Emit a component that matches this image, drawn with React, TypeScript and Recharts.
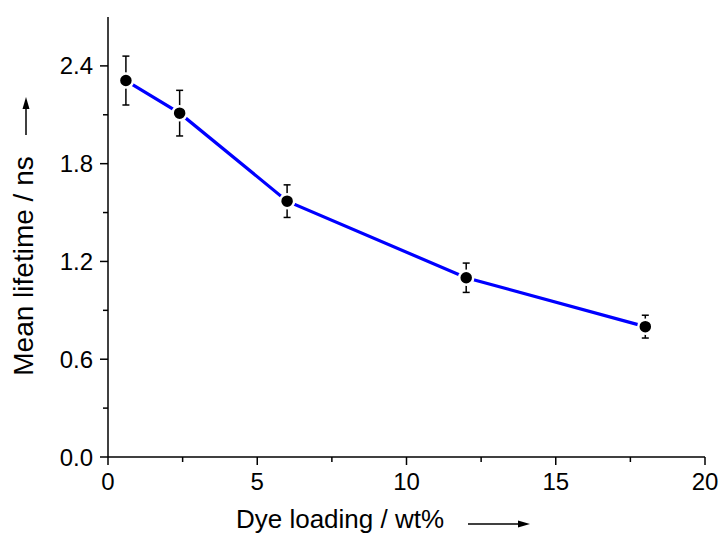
import React from 'react';
import { LineChart, Line, XAxis, YAxis, ErrorBar, Label } from 'recharts';

// dye loading (wt%) vs mean lifetime (ns)
const loading = [0.6, 2.4, 6, 12, 18];
const lifetime = [2.31, 2.11, 1.57, 1.10, 0.80];
const lifetimeErr = [0.15, 0.14, 0.10, 0.09, 0.07];

const xTicks = [0, 2.5, 5, 7.5, 10, 12.5, 15, 17.5, 20];
const yTicks = [0, 0.3, 0.6, 0.9, 1.2, 1.5, 1.8, 2.1, 2.4, 2.7];
const xMajor = [0, 5, 10, 15, 20];
const yMajor = [0, 0.6, 1.2, 1.8, 2.4];

const data = loading.map((x, i) => ({ x, y: lifetime[i], err: lifetimeErr[i] }));

const FONT = 'Arial, "Liberation Sans", sans-serif';

const XTick = (props: any) => {
  const { x, y, payload } = props;
  const major = xMajor.includes(payload.value);
  return (
    <g>
      <line x1={x} x2={x} y1={y} y2={y + (major ? 8 : 5)} stroke="#000" strokeWidth={1.5} />
      {major && (
        <text x={x} y={y + 33} textAnchor="middle" fontSize={24} fontFamily={FONT} fill="#000">
          {payload.value}
        </text>
      )}
    </g>
  );
};

const YTick = (props: any) => {
  const { x, y, payload } = props;
  const major = yMajor.includes(payload.value);
  if (payload.value === 2.7) return null;
  return (
    <g>
      <line x1={x} x2={x - (major ? 8 : 5)} y1={y} y2={y} stroke="#000" strokeWidth={1.5} />
      {major && (
        <text x={x - 15} y={y + 8.5} textAnchor="end" fontSize={24} fontFamily={FONT} fill="#000">
          {payload.value.toFixed(1)}
        </text>
      )}
    </g>
  );
};

const XTitle = () => (
  <g>
    <text x={340} y={528} textAnchor="middle" fontSize={26} fontFamily={FONT} fill="#000">
      Dye loading / wt%
    </text>
    <line x1={468} x2={522} y1={524} y2={524} stroke="#000" strokeWidth={1.5} />
    <path d="M530,524 L518,520.5 L518,527.5 Z" fill="#000" />
  </g>
);

const YTitle = () => (
  <g>
    <text
      x={266}
      y={33}
      textAnchor="middle"
      fontSize={28}
      fontFamily={FONT}
      fill="#000"
      transform="rotate(-90, 0, 0) translate(-532, 0)"
    >
      Mean lifetime / ns
    </text>
    <line x1={26} x2={26} y1={135} y2={105} stroke="#000" strokeWidth={1.5} />
    <path d="M26,97 L22.5,109 L29.5,109 Z" fill="#000" />
  </g>
);

const Dot = (props: any) => {
  const { cx, cy } = props;
  return <circle cx={cx} cy={cy} r={7} fill="#000" stroke="#fff" strokeWidth={2.5} />;
};

export default function App() {
  return (
    <div style={{ position: 'absolute', left: 0, top: 0, background: '#fff' }}>
      <LineChart width={721} height={537} data={data} margin={{ top: 17, right: 16, left: 0, bottom: 0 }}>
        <XAxis
          dataKey="x"
          type="number"
          domain={[0, 20]}
          ticks={xTicks}
          interval={0}
          height={80}
          tickSize={0}
          tickMargin={0}
          tickLine={false}
          tick={<XTick />}
          axisLine={{ stroke: '#000', strokeWidth: 1.5 }}
        >
          <Label content={<XTitle />} />
        </XAxis>
        <YAxis
          type="number"
          domain={[0, 2.7]}
          ticks={yTicks}
          interval={0}
          width={108}
          tickSize={0}
          tickMargin={0}
          tickLine={false}
          tick={<YTick />}
          axisLine={{ stroke: '#000', strokeWidth: 1.5 }}
        >
          <Label content={<YTitle />} />
        </YAxis>
        <Line
          dataKey="y"
          stroke="#0000ff"
          strokeWidth={3.2}
          dot={<Dot />}
          activeDot={false}
          isAnimationActive={false}
        >
          <ErrorBar dataKey="err" direction="y" width={3.5} stroke="#000" strokeWidth={1.5} />
        </Line>
      </LineChart>
    </div>
  );
}
